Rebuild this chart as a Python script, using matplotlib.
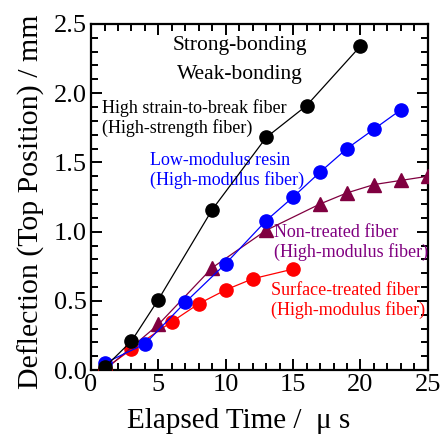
import numpy as np
import matplotlib
matplotlib.use("Agg")
import matplotlib.pyplot as plt
from matplotlib.ticker import MultipleLocator

plt.rcParams["font.family"] = ["Liberation Serif", "DejaVu Serif"]

# data
x_strain = [1, 3, 5, 9, 13, 16, 20]
y_strain = [0.02, 0.21, 0.51, 1.16, 1.68, 1.91, 2.34]

x_resin = [1, 4, 7, 10, 13, 15, 17, 19, 21, 23]
y_resin = [0.05, 0.19, 0.49, 0.77, 1.08, 1.25, 1.43, 1.60, 1.74, 1.88]

x_nontreated = [1, 5, 9, 13, 17, 19, 21, 23, 25]
y_nontreated = [0.0, 0.33, 0.74, 1.01, 1.20, 1.28, 1.34, 1.37, 1.40]

x_surface = [1, 3, 6, 8, 10, 12, 15]
y_surface = [0.01, 0.15, 0.35, 0.48, 0.58, 0.66, 0.73]

purple_marker = "#800040"
purple_text = "#800080"

fig = plt.figure(figsize=(4.42, 4.34), dpi=100)
ax = fig.add_axes([0.206, 0.147, 0.762, 0.798])

# series
ax.plot(x_surface, y_surface, "-o", color="red", lw=0.9, ms=9.5, zorder=3)
ax.plot(x_nontreated, y_nontreated, "-^", color=purple_marker, lw=0.9, ms=10, zorder=4)
ax.plot(x_resin, y_resin, "-o", color="blue", lw=0.9, ms=9.5, zorder=5)
ax.plot(x_strain, y_strain, "-o", color="black", lw=0.9, ms=9.5, zorder=6)

ax.set_xlim(0, 25)
ax.set_ylim(0, 2.5)
ax.xaxis.set_major_locator(MultipleLocator(5))
ax.xaxis.set_minor_locator(MultipleLocator(1))
ax.yaxis.set_major_locator(MultipleLocator(0.5))
ax.yaxis.set_minor_locator(MultipleLocator(0.1))
ax.yaxis.set_major_formatter(plt.FuncFormatter(lambda v, p: "%.1f" % v))

ax.tick_params(which="both", direction="in", top=True, right=True, width=1.4)
ax.tick_params(which="major", length=8, labelsize=19, pad=3)
ax.tick_params(which="minor", length=5)
for sp in ax.spines.values():
    sp.set_linewidth(1.6)

# axis labels
ax.set_xlabel("Elapsed Time /  μ s", fontsize=21)
ax.xaxis.set_label_coords(0.437, -0.110, transform=ax.transAxes)
ax.xaxis.label.set_va("top")
ax.set_ylabel("Deflection (Top Position) / mm", fontsize=21.5)
ax.yaxis.set_label_coords(-0.137, 0.487, transform=ax.transAxes)

# annotations
ax.text(0.442, 0.937, "Strong-bonding", transform=ax.transAxes, ha="center",
        va="center", fontsize=15.5)
ax.text(0.442, 0.855, "Weak-bonding", transform=ax.transAxes, ha="center",
        va="center", fontsize=15.5)
ax.text(0.82, 1.82, "High strain-to-break fiber\n(High-strength fiber)",
        ha="left", va="center", fontsize=13, linespacing=1.15, color="black")
ax.text(4.38, 1.44, "Low-modulus resin\n(High-modulus fiber)",
        ha="left", va="center", fontsize=13, linespacing=1.15, color="blue")
ax.text(13.58, 0.925, "Non-treated fiber\n(High-modulus fiber)",
        ha="left", va="center", fontsize=13, linespacing=1.15, color=purple_text)
ax.text(13.35, 0.506, "Surface-treated fiber\n(High-modulus fiber)",
        ha="left", va="center", fontsize=13, linespacing=1.15, color="red")

fig.savefig("out.png", dpi=100)
